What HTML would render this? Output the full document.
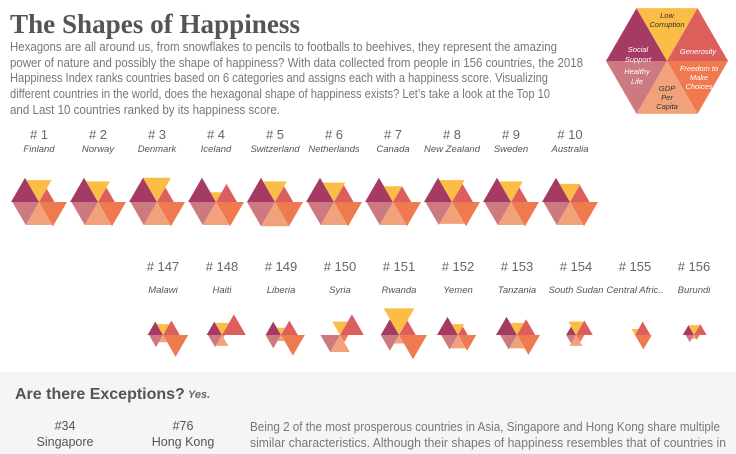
<!DOCTYPE html>
<html><head><meta charset="utf-8"><style>
html,body{margin:0;padding:0;background:#fff;width:736px;height:454px;overflow:hidden}
svg{display:block}
</style></head><body>
<svg id="chart" width="736" height="454" viewBox="0 0 736 454" font-family="Liberation Sans,sans-serif">
<rect x="0" y="372" width="736" height="82" fill="#f6f5f3"/>
<text x="10" y="33" style="font-family:'Liberation Serif',serif" font-weight="bold" font-size="27" fill="#555" textLength="290" lengthAdjust="spacingAndGlyphs">The Shapes of Happiness</text>
<g font-size="12.5" fill="#777">
<text x="10" y="51" textLength="547" lengthAdjust="spacingAndGlyphs">Hexagons are all around us, from snowflakes to pencils to footballs to beehives, they represent the amazing</text>
<text x="10" y="67" textLength="573" lengthAdjust="spacingAndGlyphs">power of nature and possibly the shape of happiness? With data collected from people in 156 countries, the 2018</text>
<text x="10" y="82" textLength="538" lengthAdjust="spacingAndGlyphs">Happiness Index ranks countries based on 6 categories and assigns each with a happiness score. Visualizing</text>
<text x="10" y="98" textLength="540" lengthAdjust="spacingAndGlyphs">different countries in the world, does the hexagonal shape of happiness exists? Let’s take a look at the Top 10</text>
<text x="10" y="114" textLength="270" lengthAdjust="spacingAndGlyphs">and Last 10 countries ranked by its happiness score.</text>
</g>
<g id="legend"></g>
<g id="marks"></g>
<text x="15" y="399" font-size="16" font-weight="bold" fill="#555">Are there Exceptions?</text>
<text x="188" y="398" font-size="11" font-style="italic" font-weight="bold" fill="#666">Yes.</text>
<g font-size="12.5" fill="#555" text-anchor="middle">
<text x="65" y="430">#34</text><text x="65" y="446">Singapore</text>
<text x="183" y="430">#76</text><text x="183" y="446">Hong Kong</text>
</g>
<g font-size="12.5" fill="#777">
<text x="250" y="431" textLength="470" lengthAdjust="spacingAndGlyphs">Being 2 of the most prosperous countries in Asia, Singapore and Hong Kong share multiple</text>
<text x="250" y="447" textLength="476" lengthAdjust="spacingAndGlyphs">similar characteristics. Although their shapes of happiness resembles that of countries in</text>
</g>
</svg>
<script>
// categories: social, corruption, generosity, freedom, gdp, health
const categories=["Social Support","Low Corruption","Generosity","Freedom to Make Choices","GDP Per Capita","Healthy Life"];
const topRanks=["# 1","# 2","# 3","# 4","# 5","# 6","# 7","# 8","# 9","# 10"];
const topCountries=["Finland","Norway","Denmark","Iceland","Switzerland","Netherlands","Canada","New Zealand","Sweden","Australia"];
const topValues=[[1,.9,.55,1,.95,.95],[1,.85,.6,1,.95,.95],[1,1,.6,1,.95,.95],[1,.4,.75,1,.95,.95],[1,.85,.65,1,1,1],[1,.8,.7,1,.95,.95],[1,.65,.65,1,.95,.95],[1,.9,.75,1,.9,.95],[1,.85,.6,1,.95,.95],[1,.75,.7,1,.95,.95]];
const botRanks=["# 147","# 148","# 149","# 150","# 151","# 152","# 153","# 154","# 155","# 156"];
const botCountries=["Malawi","Haiti","Liberia","Syria","Rwanda","Yemen","Tanzania","South Sudan","Central Afric..","Burundi"];
const botValues=[[.55,.45,.6,.9,.3,.5],[.55,.5,.85,.1,.45,.5],[.55,.3,.6,.85,.25,.55],[0,.55,.85,.3,.7,.7],[.65,1.1,.6,1,.35,.65],[.75,.45,.35,.65,.55,.6],[.75,.5,.65,.82,.55,.6],[.35,.55,.6,.3,.45,.35],[0,.25,.55,.6,0,0],[.4,.4,.45,.2,.15,.3]];
const colors=["#a53a64","#fbbd45","#dc5f5b","#f07a4f","#f2a27b","#cc7a80"];
const angles=[[120,180],[60,120],[0,60],[300,360],[240,300],[180,240]];
const NS="http://www.w3.org/2000/svg";
const marks=document.getElementById('marks');
function tri(g,cx,cy,R,i,v){
  const a0=angles[i][0]*Math.PI/180,a1=angles[i][1]*Math.PI/180,r=R*v;
  const p=document.createElementNS(NS,'polygon');
  p.setAttribute('points',`${cx},${cy} ${cx+r*Math.cos(a0)},${cy-r*Math.sin(a0)} ${cx+r*Math.cos(a1)},${cy-r*Math.sin(a1)}`);
  p.setAttribute('fill',colors[i]);
  
  
  g.appendChild(p);
}
function txt(g,x,y,s,size,fill,ital){
  const t=document.createElementNS(NS,'text');
  t.setAttribute('x',x);t.setAttribute('y',y);t.setAttribute('font-size',size);
  t.setAttribute('fill',fill);t.setAttribute('text-anchor','middle');
  if(ital)t.setAttribute('font-style','italic');
  t.textContent=s;g.appendChild(t);return t;
}
function row(ranks,names,vals,x0,rankY,nameY,cy){
  ranks.forEach((r,k)=>{
    const cx=x0+59*k;
    const g=document.createElementNS(NS,'g');
    
    
    const t1=txt(g,cx,rankY,r,13,'#666',false);
    
    
    const t2=txt(g,cx,nameY,names[k],9.5,'#555',true);
    
    
    vals[k].forEach((v,i)=>tri(g,cx,cy,28,i,v));
    marks.appendChild(g);
  });
}
row(topRanks,topCountries,topValues,39,139,152,202);
row(botRanks,botCountries,botValues,163,271,293,335);
// legend
const lg=document.getElementById('legend');
[0,1,2,3,4,5].forEach(i=>tri(lg,667,61,61,i,1));
const labs=[[[638,52,"Social"],[638,62,"Support"]],[[667,18,"Low"],[667,27,"Corruption"]],[[698,54,"Generosity"]],[[699,71,"Freedom to"],[699,80,"Make"],[699,89,"Choices"]],[[667,91,"GDP"],[667,100,"Per"],[667,109,"Capita"]],[[637,74,"Healthy"],[637,84,"Life"]]];
const lc=["#fff","#333","#fff","#fff","#333","#fff"];
labs.forEach((L,i)=>L.forEach(l=>{const t=txt(lg,l[0],l[1],l[2],7.5,lc[i],true);

}));
</script>
</body></html>
